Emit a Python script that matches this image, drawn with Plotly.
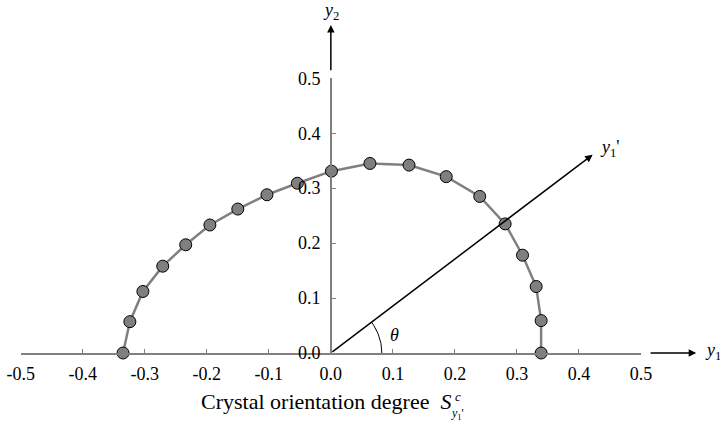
import numpy as np
import plotly.graph_objects as go

# ---- data ----
s_y1 = [-0.335, -0.324, -0.303, -0.271, -0.234, -0.195, -0.150, -0.103, -0.054, 0.001,
        0.063, 0.126, 0.186, 0.240, 0.281, 0.309, 0.331, 0.339, 0.339]
s_y2 = [0.000, 0.057, 0.112, 0.158, 0.197, 0.233, 0.262, 0.288, 0.309, 0.331,
        0.345, 0.342, 0.321, 0.285, 0.235, 0.178, 0.121, 0.059, 0.000]
x_ticks = [-0.5, -0.4, -0.3, -0.2, -0.1, 0.0, 0.1, 0.2, 0.3, 0.4, 0.5]
x_tick_labels = ["-0.5", "-0.4", "-0.3", "-0.2", "-0.1", "0.0", "0.1", "0.2", "0.3", "0.4", "0.5"]
y_ticks = [0.0, 0.1, 0.2, 0.3, 0.4, 0.5]
y_tick_labels = ["0.0", "0.1", "0.2", "0.3", "0.4", "0.5"]
y1p_tip = (0.422, 0.361)   # tip of the rotated axis y1'

W, H = 720, 429
X_LEFT, X_RIGHT = 20.7, 641.0      # pixels of x=-0.5 and x=0.5
Y_ZERO, Y_HALF = 353.0, 78.3       # pixels of y=0 and y=0.5
XPU = (X_RIGHT - X_LEFT) / 1.0
YPU = (Y_ZERO - Y_HALF) / 0.5
X0 = X_LEFT + 0.5 * XPU

GRAY = "#808080"
SERIF = "Liberation Serif"

fig = go.Figure()

# dummy trace for the visible axes (drawn first)
fig.add_trace(go.Scatter(x=[None], y=[None], xaxis="x2", yaxis="y2", showlegend=False))

# theta arc (pixel circle converted to data units)
ang = np.radians(np.linspace(0, np.degrees(np.arctan2(y1p_tip[1] * YPU, y1p_tip[0] * XPU)), 40))
r_px = 51
fig.add_trace(go.Scatter(x=r_px * np.cos(ang) / XPU, y=r_px * np.sin(ang) / YPU, mode="lines",
                         line=dict(color="black", width=1), cliponaxis=False,
                         hoverinfo="skip", showlegend=False))

fig.add_trace(go.Scatter(
    x=s_y1, y=s_y2, mode="lines+markers",
    line=dict(color=GRAY, width=2.5),
    marker=dict(size=12, color="#7f7f7f", line=dict(color="black", width=1)),
    cliponaxis=False, showlegend=False))

hidden = dict(visible=False, showgrid=False, zeroline=False, automargin=False)
fig.update_layout(
    width=W, height=H, margin=dict(l=0, r=0, t=0, b=0, pad=0),
    paper_bgcolor="white", plot_bgcolor="rgba(0,0,0,0)", showlegend=False,
    font=dict(family=SERIF, size=18, color="black"),
    xaxis=dict(domain=[0, 1], range=[(0 - X0) / XPU, (W - X0) / XPU], anchor="y", **hidden),
    yaxis=dict(domain=[0, 1], range=[(Y_ZERO - H) / YPU, Y_ZERO / YPU], anchor="x", **hidden),
    xaxis2=dict(domain=[X_LEFT / W, X_RIGHT / W], range=[-0.5, 0.5], anchor="y2",
                showgrid=False, zeroline=False, showline=True, linecolor=GRAY, linewidth=1.5,
                ticks="inside", ticklen=4, tickcolor=GRAY, tickwidth=1, automargin=False,
                tickvals=x_ticks, ticktext=x_tick_labels, ticklabelstandoff=4,
                tickfont=dict(family=SERIF, size=18, color="black")),
    yaxis2=dict(domain=[(H - Y_ZERO) / H, (H - Y_HALF) / H], range=[0, 0.5],
                anchor="free", position=X0 / W, automargin=False,
                showgrid=False, zeroline=False, showline=True, linecolor=GRAY, linewidth=1.5,
                ticks="inside", ticklen=4, tickcolor=GRAY, tickwidth=1,
                tickvals=y_ticks, ticktext=y_tick_labels, ticklabelstandoff=6,
                tickfont=dict(family=SERIF, size=18, color="black")),
)

arrow = dict(xref="x", yref="y", axref="x", ayref="y", showarrow=True, arrowhead=2,
             arrowsize=1, arrowwidth=1.5, arrowcolor="black", text="")
ann = []
# y2 arrow + label
ann.append(dict(x=0, y=0.597, ax=0, ay=0.512, **arrow))
ann.append(dict(x=0, y=0.622, xref="x", yref="y", text="<i>y</i><sub>2</sub>", showarrow=False,
                font=dict(size=18, family=SERIF)))
# y1 arrow + label
ann.append(dict(x=0.589, y=0, ax=0.513, ay=0, **arrow))
ann.append(dict(x=0.600, y=0.002, xref="x", yref="y", text="<i>y</i><sub>1</sub>", showarrow=False,
                xanchor="left", font=dict(size=18, family=SERIF)))
# y1' arrow + label
ann.append(dict(x=y1p_tip[0], y=y1p_tip[1], ax=0, ay=0, **arrow))
ann.append(dict(x=0.430, y=0.372, xref="x", yref="y",
                text="<i>y</i><sub>1</sub>'", showarrow=False, xanchor="left",
                font=dict(size=18, family=SERIF)))
# theta
ann.append(dict(x=0.102, y=0.033, xref="x", yref="y", text="<i>θ</i>", showarrow=False,
                font=dict(size=18, family=SERIF)))
# axis title
ann.append(dict(x=199 / W, y=1 - 401 / H, xref="paper", yref="paper", xanchor="left", yanchor="middle",
                text="Crystal orientation degree  <i>S</i>", showarrow=False,
                font=dict(size=22, family=SERIF)))
ann.append(dict(x=453 / W, y=1 - 396 / H, xref="paper", yref="paper", xanchor="left", yanchor="middle",
                text="<i>c</i>", showarrow=False, font=dict(size=13, family=SERIF)))
ann.append(dict(x=449 / W, y=1 - 414 / H, xref="paper", yref="paper", xanchor="left", yanchor="middle",
                text="<i>y</i><sub>1</sub>'", showarrow=False, font=dict(size=12, family=SERIF)))
fig.update_layout(annotations=ann)

fig.write_html("out.html")
